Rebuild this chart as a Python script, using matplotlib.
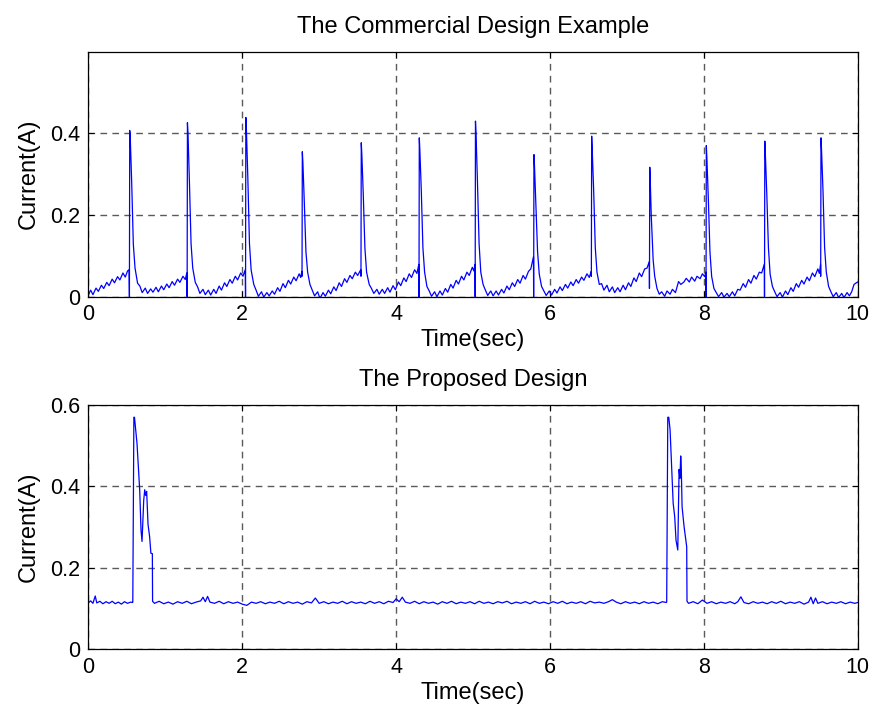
import numpy as np
import matplotlib
matplotlib.use('Agg')
import matplotlib.pyplot as plt

plt.rcParams['font.family'] = ['Liberation Sans', 'DejaVu Sans']

# Top trace: commercial design (time in s, current in A)
top_t = [
    0.00, 0.03, 0.06, 0.10, 0.13, 0.17, 0.20, 0.24, 0.27, 0.31, 0.34, 0.38, 0.41, 0.45, 0.48, 0.51, 0.530,
    0.534, 0.538, 0.545, 0.564, 0.585, 0.607, 0.640,
    0.67, 0.70, 0.74, 0.77, 0.81, 0.84, 0.88, 0.91, 0.95, 0.98, 1.02, 1.05, 1.09, 1.12, 1.16, 1.19, 1.23, 1.26, 1.280,
    1.284, 1.288, 1.295, 1.314, 1.335, 1.357, 1.390,
    1.42, 1.45, 1.49, 1.52, 1.56, 1.59, 1.63, 1.66, 1.70, 1.73, 1.77, 1.80, 1.84, 1.87, 1.91, 1.94, 1.98, 2.01, 2.040,
    2.043, 2.047, 2.054, 2.073, 2.094, 2.116, 2.150,
    2.18, 2.21, 2.25, 2.28, 2.32, 2.35, 2.39, 2.42, 2.46, 2.49, 2.53, 2.56, 2.60, 2.63, 2.67, 2.70, 2.74, 2.76, 2.775,
    2.777, 2.781, 2.788, 2.807, 2.828, 2.850, 2.880,
    2.91, 2.94, 2.98, 3.01, 3.05, 3.08, 3.12, 3.15, 3.19, 3.22, 3.26, 3.29, 3.33, 3.36, 3.40, 3.43, 3.47, 3.50, 3.540,
    3.543, 3.547, 3.554, 3.573, 3.594, 3.616, 3.650,
    3.68, 3.71, 3.75, 3.78, 3.82, 3.85, 3.89, 3.92, 3.96, 3.99, 4.03, 4.06, 4.10, 4.13, 4.17, 4.20, 4.24, 4.27, 4.295,
    4.297, 4.301, 4.308, 4.327, 4.348, 4.370, 4.400,
    4.43, 4.46, 4.50, 4.53, 4.57, 4.60, 4.64, 4.67, 4.71, 4.74, 4.78, 4.81, 4.85, 4.88, 4.92, 4.95, 4.99, 5.01, 5.025,
    5.027, 5.031, 5.038, 5.057, 5.078, 5.100, 5.130,
    5.16, 5.19, 5.23, 5.26, 5.30, 5.33, 5.37, 5.40, 5.44, 5.47, 5.51, 5.54, 5.58, 5.61, 5.65, 5.68, 5.72, 5.75, 5.785,
    5.787, 5.791, 5.798, 5.817, 5.838, 5.860, 5.890,
    5.92, 5.95, 5.99, 6.02, 6.06, 6.09, 6.13, 6.16, 6.20, 6.23, 6.27, 6.30, 6.34, 6.37, 6.41, 6.44, 6.48, 6.51, 6.535,
    6.537, 6.541, 6.548, 6.567, 6.588, 6.610, 6.640,
    6.67, 6.70, 6.74, 6.77, 6.81, 6.84, 6.88, 6.91, 6.95, 6.98, 7.02, 7.05, 7.09, 7.12, 7.16, 7.19, 7.23, 7.26, 7.290,
    7.292, 7.296, 7.300, 7.315, 7.340, 7.360, 7.390,
    7.42, 7.45, 7.49, 7.52, 7.56, 7.59, 7.63, 7.67, 7.70, 7.74, 7.77, 7.81, 7.84, 7.88, 7.91, 7.95, 7.98, 8.01, 8.025,
    8.027, 8.031, 8.038, 8.057, 8.078, 8.100, 8.130,
    8.16, 8.19, 8.23, 8.26, 8.30, 8.33, 8.37, 8.40, 8.44, 8.47, 8.51, 8.54, 8.58, 8.61, 8.65, 8.68, 8.72, 8.75, 8.785,
    8.787, 8.791, 8.798, 8.817, 8.838, 8.860, 8.890,
    8.92, 8.95, 8.99, 9.02, 9.06, 9.09, 9.13, 9.16, 9.20, 9.23, 9.27, 9.30, 9.34, 9.37, 9.41, 9.44, 9.48, 9.50, 9.515,
    9.517, 9.521, 9.528, 9.547, 9.568, 9.590, 9.620,
    9.65, 9.68, 9.72, 9.75, 9.79, 9.82, 9.86, 9.89, 9.92, 9.95, 9.98, 10.00,
]
top_i = [
    0.004, 0.016, 0.005, 0.021, 0.013, 0.028, 0.020, 0.035, 0.027, 0.043, 0.034, 0.049, 0.041, 0.058, 0.048, 0.063, 0.066,
    0.000, 0.407, 0.390, 0.277, 0.128, 0.070, 0.033,
    0.026, 0.010, 0.021, 0.008, 0.019, 0.011, 0.023, 0.012, 0.026, 0.017, 0.031, 0.022, 0.037, 0.028, 0.043, 0.035, 0.050, 0.042, 0.058,
    0.000, 0.426, 0.400, 0.280, 0.130, 0.070, 0.035,
    0.024, 0.008, 0.018, 0.005, 0.016, 0.004, 0.018, 0.008, 0.026, 0.016, 0.034, 0.025, 0.042, 0.033, 0.050, 0.041, 0.058, 0.050, 0.066,
    0.000, 0.439, 0.410, 0.290, 0.130, 0.065, 0.030,
    0.016, 0.001, 0.012, -0.001, 0.010, 0.002, 0.014, 0.006, 0.022, 0.013, 0.032, 0.022, 0.040, 0.031, 0.048, 0.039, 0.056, 0.047, 0.062,
    0.050, 0.355, 0.330, 0.230, 0.110, 0.060, 0.030,
    0.016, 0.002, 0.012, -0.004, 0.010, 0.001, 0.016, 0.007, 0.024, 0.015, 0.034, 0.025, 0.044, 0.035, 0.052, 0.044, 0.060, 0.052, 0.066,
    0.050, 0.377, 0.350, 0.250, 0.120, 0.060, 0.030,
    0.020, 0.008, 0.018, 0.006, 0.018, 0.008, 0.022, 0.011, 0.027, 0.017, 0.036, 0.027, 0.046, 0.037, 0.056, 0.047, 0.066, 0.057, 0.079,
    0.000, 0.389, 0.360, 0.260, 0.120, 0.060, 0.025,
    0.014, 0.001, 0.012, 0.000, 0.014, 0.004, 0.020, 0.011, 0.030, 0.021, 0.040, 0.031, 0.050, 0.041, 0.060, 0.052, 0.072, 0.063, 0.079,
    0.000, 0.430, 0.400, 0.280, 0.130, 0.060, 0.030,
    0.016, 0.003, 0.014, 0.002, 0.014, 0.004, 0.018, 0.009, 0.026, 0.017, 0.034, 0.025, 0.042, 0.033, 0.052, 0.043, 0.062, 0.068, 0.098,
    0.000, 0.348, 0.320, 0.220, 0.110, 0.055, 0.025,
    0.014, 0.003, 0.014, 0.004, 0.018, 0.009, 0.024, 0.015, 0.030, 0.021, 0.036, 0.027, 0.042, 0.033, 0.048, 0.040, 0.056, 0.047, 0.062,
    0.050, 0.393, 0.360, 0.260, 0.120, 0.060, 0.030,
    0.032, 0.016, 0.028, 0.012, 0.024, 0.010, 0.022, 0.012, 0.028, 0.017, 0.034, 0.025, 0.046, 0.037, 0.058, 0.049, 0.068, 0.070, 0.086,
    0.020, 0.317, 0.300, 0.200, 0.090, 0.050, 0.020,
    0.006, 0.012, 0.001, 0.014, 0.006, 0.018, 0.010, 0.037, 0.030, 0.036, 0.045, 0.036, 0.048, 0.038, 0.050, 0.044, 0.056, 0.049, 0.060,
    0.000, 0.370, 0.340, 0.240, 0.110, 0.050, 0.020,
    0.010, 0.000, 0.010, -0.001, 0.008, 0.000, 0.012, 0.002, 0.018, 0.016, 0.032, 0.023, 0.042, 0.033, 0.052, 0.043, 0.060, 0.058, 0.080,
    0.000, 0.381, 0.350, 0.250, 0.120, 0.055, 0.025,
    0.012, 0.000, 0.010, -0.001, 0.014, 0.005, 0.022, 0.013, 0.032, 0.023, 0.040, 0.031, 0.048, 0.039, 0.058, 0.049, 0.068, 0.057, 0.079,
    0.050, 0.389, 0.360, 0.260, 0.120, 0.060, 0.025,
    0.012, 0.000, 0.010, -0.002, 0.008, -0.002, 0.010, 0.002, 0.012, 0.030, 0.034, 0.036,
]

# Bottom trace: proposed design
bottom_t = [
    0.00, 0.03, 0.06, 0.09, 0.11, 0.15, 0.19, 0.23, 0.27, 0.31, 0.35, 0.39, 0.43, 0.47, 0.51, 0.55, 0.576,
    0.578, 0.592, 0.600, 0.633, 0.668, 0.685, 0.698, 0.720, 0.733, 0.745, 0.758, 0.776, 0.797, 0.813, 0.832, 0.835,
    0.86, 0.92, 0.98, 1.04, 1.10, 1.16, 1.22, 1.28, 1.34, 1.40,
    1.46, 1.49, 1.52, 1.55, 1.58, 1.64, 1.70, 1.76, 1.82, 1.88,
    1.94, 2.00, 2.06, 2.12, 2.18, 2.24, 2.30, 2.36, 2.42, 2.48,
    2.54, 2.60, 2.66, 2.72, 2.78, 2.84, 2.90, 2.95, 3.00, 3.06,
    3.12, 3.18, 3.24, 3.30, 3.36, 3.42, 3.48, 3.54, 3.60, 3.66,
    3.72, 3.78, 3.84, 3.90, 3.96, 4.00, 4.04, 4.08, 4.12, 4.18,
    4.24, 4.30, 4.36, 4.42, 4.48, 4.54, 4.60, 4.66, 4.72, 4.78,
    4.84, 4.90, 4.96, 5.02, 5.08, 5.14, 5.20, 5.26, 5.32, 5.38,
    5.44, 5.50, 5.56, 5.62, 5.68, 5.74, 5.80, 5.86, 5.92, 5.98,
    6.04, 6.10, 6.16, 6.22, 6.28, 6.34, 6.40, 6.46, 6.52, 6.58,
    6.64, 6.70, 6.76, 6.81, 6.86, 6.92, 6.98, 7.04, 7.10, 7.16,
    7.22, 7.28, 7.34, 7.40, 7.46, 7.512,
    7.516, 7.530, 7.543, 7.560, 7.600, 7.620, 7.637, 7.660, 7.677, 7.688, 7.698, 7.705, 7.716, 7.742, 7.776, 7.780,
    7.80, 7.86, 7.92, 7.98, 8.04, 8.10, 8.16, 8.22, 8.28, 8.34,
    8.40, 8.44, 8.48, 8.52, 8.58, 8.64, 8.70, 8.76, 8.82, 8.88,
    8.94, 9.00, 9.06, 9.12, 9.18, 9.24, 9.30, 9.36, 9.39, 9.42,
    9.45, 9.48, 9.54, 9.60, 9.66, 9.72, 9.78, 9.84, 9.90, 9.96, 10.00,
]
bottom_i = [
    0.114, 0.119, 0.113, 0.131, 0.114, 0.118, 0.112, 0.117, 0.113, 0.118, 0.112, 0.116, 0.111, 0.117, 0.113, 0.116, 0.115,
    0.117, 0.570, 0.570, 0.505, 0.390, 0.292, 0.265, 0.366, 0.392, 0.378, 0.388, 0.307, 0.276, 0.236, 0.235, 0.118,
    0.113, 0.118, 0.112, 0.116, 0.111, 0.117, 0.113, 0.118, 0.112, 0.116,
    0.119, 0.128, 0.117, 0.130, 0.116, 0.113, 0.118, 0.112, 0.117, 0.113,
    0.116, 0.111, 0.108, 0.116, 0.113, 0.117, 0.112, 0.116, 0.113, 0.118,
    0.112, 0.117, 0.113, 0.116, 0.111, 0.117, 0.114, 0.126, 0.113, 0.117,
    0.112, 0.116, 0.113, 0.118, 0.112, 0.117, 0.113, 0.116, 0.112, 0.118,
    0.113, 0.117, 0.112, 0.118, 0.115, 0.124, 0.117, 0.128, 0.116, 0.113,
    0.118, 0.112, 0.117, 0.113, 0.116, 0.111, 0.117, 0.113, 0.118, 0.112,
    0.116, 0.113, 0.117, 0.112, 0.118, 0.113, 0.116, 0.112, 0.117, 0.114,
    0.118, 0.112, 0.116, 0.113, 0.117, 0.112, 0.118, 0.113, 0.116, 0.112,
    0.117, 0.113, 0.118, 0.112, 0.116, 0.113, 0.117, 0.112, 0.118, 0.114,
    0.116, 0.113, 0.117, 0.122, 0.116, 0.112, 0.117, 0.113, 0.116, 0.112,
    0.117, 0.113, 0.116, 0.112, 0.117, 0.115,
    0.117, 0.570, 0.570, 0.539, 0.359, 0.326, 0.268, 0.244, 0.442, 0.420, 0.475, 0.450, 0.350, 0.301, 0.252, 0.118,
    0.113, 0.117, 0.112, 0.121, 0.113, 0.117, 0.112, 0.116, 0.113, 0.117,
    0.112, 0.117, 0.129, 0.115, 0.112, 0.117, 0.113, 0.116, 0.112, 0.117,
    0.113, 0.118, 0.112, 0.116, 0.113, 0.117, 0.111, 0.116, 0.128, 0.112,
    0.126, 0.113, 0.117, 0.112, 0.116, 0.113, 0.117, 0.112, 0.116, 0.113, 0.115,
]

titles = ['The Commercial Design Example', 'The Proposed Design']
x_ticks = [0, 2, 4, 6, 8, 10]
top_yticks = [0, 0.2, 0.4]
bottom_yticks = [0, 0.2, 0.4, 0.6]

fig = plt.figure(figsize=(8.71, 7.13), dpi=100)
ax1 = fig.add_axes([0.1014, 0.5839, 0.8835, 0.3436])
ax2 = fig.add_axes([0.1014, 0.0893, 0.8835, 0.3426])

panels = [
    (ax1, top_t, top_i, top_yticks, titles[0]),
    (ax2, bottom_t, bottom_i, bottom_yticks, titles[1]),
]

for ax, t, cur, yt, title in panels:
    ax.plot(t, cur, color='#0000ff', linewidth=0.9)
    ax.set_xlim(0, 10)
    ax.set_ylim(0, 0.6)
    ax.set_xticks(x_ticks)
    ax.set_yticks(yt)
    ax.set_yticklabels([('%g' % v) for v in yt])
    ax.set_axisbelow(True)
    ax.grid(True, color='#5a5a5a', linewidth=1.0, linestyle=(0, (4.8, 3.8)))
    ax.tick_params(direction='in', length=4, width=0.75, top=True, right=True,
                   labelsize=15.5, pad=5.5, colors='black')
    for sp in ax.spines.values():
        sp.set_linewidth(0.9)
        sp.set_color('black')
    ax.set_xlabel('Time(sec)', fontsize=17, labelpad=3)
    ax.set_ylabel('Current(A)', fontsize=17, labelpad=8)
    ax.set_title(title, fontsize=17, pad=13.5)

fig.savefig('out.png', dpi=100)
